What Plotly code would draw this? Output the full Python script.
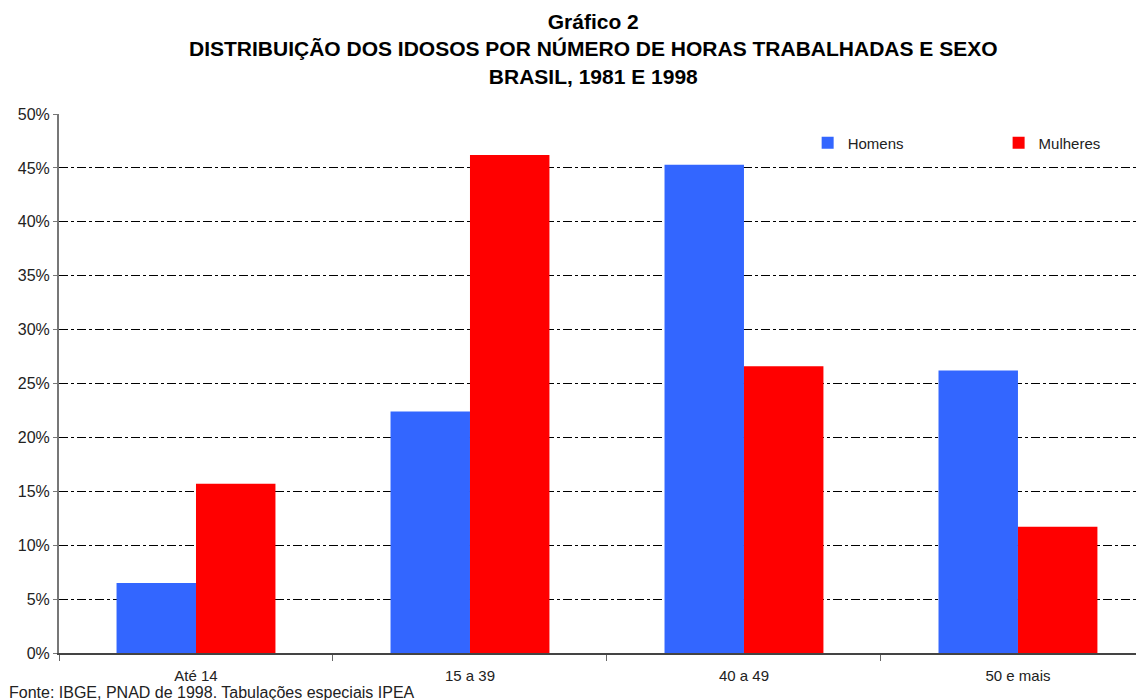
import plotly.graph_objects as go

categories = ["Até 14", "15 a 39", "40 a 49", "50 e mais"]
homens = [0.065, 0.224, 0.453, 0.262]
mulheres = [0.157, 0.462, 0.266, 0.117]
y_ticks = [0, 0.05, 0.10, 0.15, 0.20, 0.25, 0.30, 0.35, 0.40, 0.45, 0.50]

fig = go.Figure()
fig.add_trace(go.Bar(x=categories, y=homens, name="Homens", marker_color="#3366FF",
                     marker_line_width=0, legend="legend"))
fig.add_trace(go.Bar(x=categories, y=mulheres, name="Mulheres", marker_color="#FF0000",
                     marker_line_width=0, legend="legend2"))

font_fam = "Liberation Sans, Arial, sans-serif"
fig.update_layout(
    width=1136, height=692,
    margin=dict(l=51, r=0, t=106, b=47),
    paper_bgcolor="white", plot_bgcolor="white",
    barmode="group", bargap=0.42, bargroupgap=0,
    font=dict(family=font_fam, size=15, color="#222"),
    showlegend=True,
    legend=dict(x=0.690, y=0.946, xanchor="left", yanchor="middle",
                font=dict(size=15, color="#222"), itemwidth=30, bgcolor="rgba(0,0,0,0)"),
    legend2=dict(x=0.866, y=0.946, xanchor="left", yanchor="middle",
                 font=dict(size=15, color="#222"), itemwidth=30, bgcolor="rgba(0,0,0,0)"),
    xaxis=dict(range=[-0.5, 3.46], showline=True, linecolor="#444", linewidth=2,
               ticks="outside", tickson="boundaries", ticklen=6, tickcolor="#666",
               ticklabelstandoff=8,
               tickfont=dict(size=15, color="#222"), showgrid=False),
    yaxis=dict(range=[0, 0.5], tickvals=y_ticks, tickformat=".0%", showline=True,
               linecolor="#777", linewidth=2, ticks="outside", ticklen=4, tickcolor="#777",
               showgrid=True, gridcolor="black", gridwidth=1, griddash="dashdot",
               tickfont=dict(size=16, color="#222"), zeroline=False),
)

fig.add_annotation(
    text="<b>Gráfico 2</b><br><b>DISTRIBUIÇÃO DOS IDOSOS POR NÚMERO DE HORAS TRABALHADAS E SEXO</b><br><b>BRASIL, 1981 E 1998</b>",
    xref="paper", yref="paper", x=0.493, y=1.0, yshift=106, xanchor="center", yanchor="top",
    showarrow=False, font=dict(size=21, color="black", family=font_fam), align="center")

fig.add_annotation(
    text="Fonte: IBGE, PNAD de 1998. Tabulações especiais IPEA",
    xref="paper", yref="paper", x=0, y=0, xshift=-52, yshift=-39, xanchor="left", yanchor="middle",
    showarrow=False, font=dict(size=16, color="#222", family=font_fam))

fig.write_html("out.html")
